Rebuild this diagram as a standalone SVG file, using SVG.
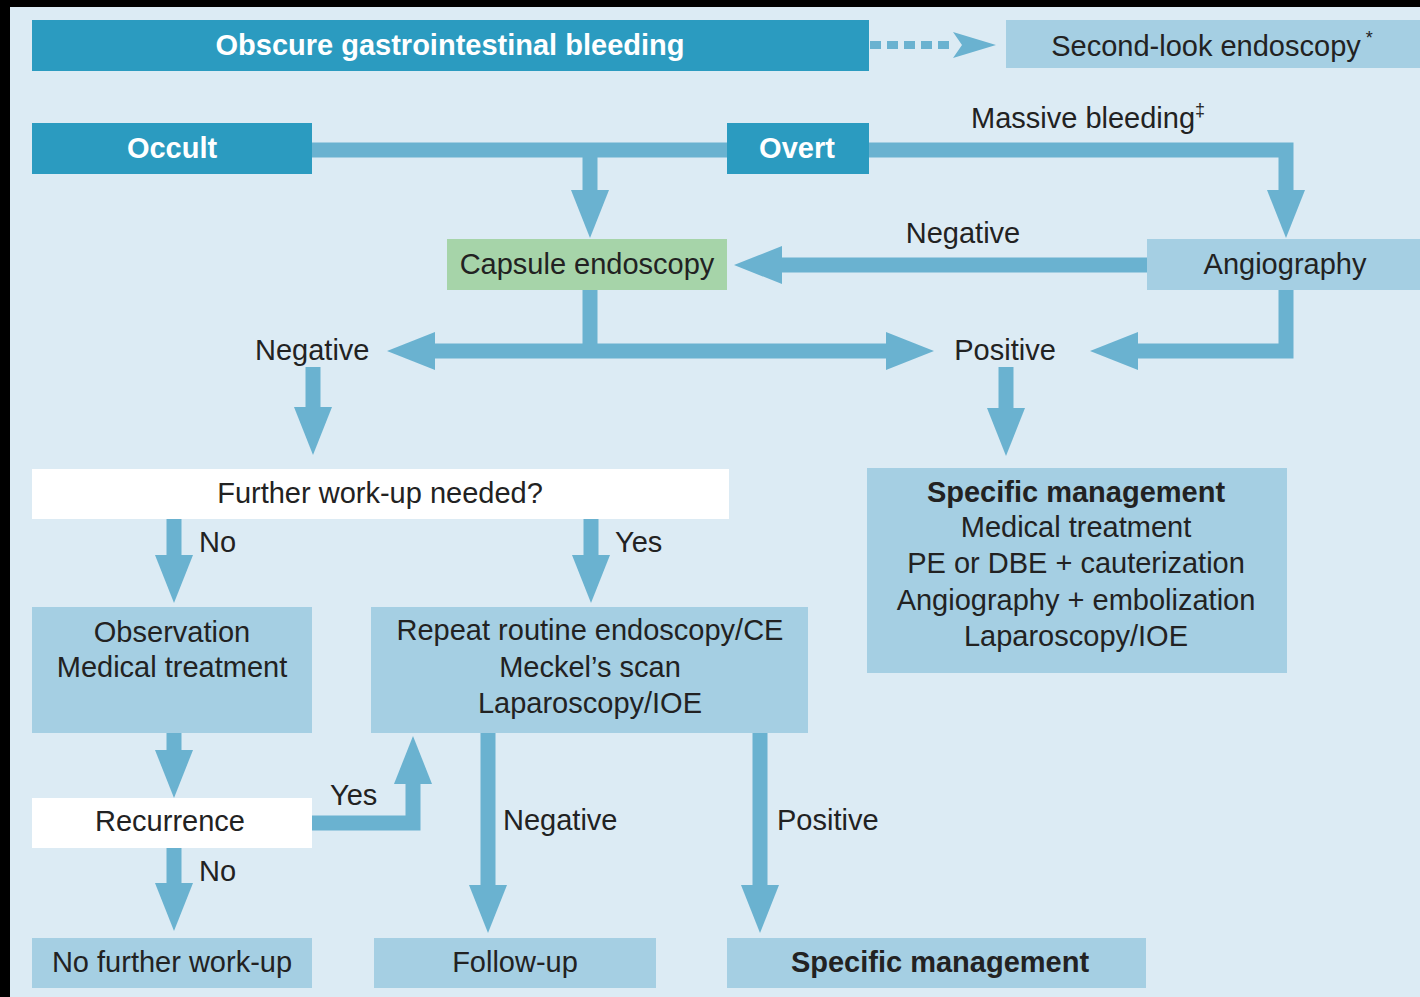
<svg xmlns="http://www.w3.org/2000/svg" width="1420" height="997" viewBox="0 0 1420 997">
<style>
text{font-family:"Liberation Sans",Arial,sans-serif;font-size:29px;fill:#222}
.c{text-anchor:middle}
.b{font-weight:bold}
.w{fill:#fff}
.dark{fill:#2B9BC0}
.light{fill:#A5CFE3}
.green{fill:#A6D4A9}
.white{fill:#fff}
.con{fill:none;stroke:#6AB2D0;stroke-width:15;stroke-linejoin:miter}
.arr{marker-end:url(#ah)}
</style>
<defs>
<marker id="ah" markerUnits="userSpaceOnUse" markerWidth="50" markerHeight="40" refX="0" refY="19" orient="auto" overflow="visible">
<path d="M0,0 L48,19 L0,38 Z" fill="#6AB2D0"/>
</marker>
</defs>
<rect x="0" y="0" width="1420" height="997" fill="#000"/>
<rect x="10" y="7" width="1410" height="990" fill="#DCEBF4"/>

<g id="connectors">
<path class="con" d="M312,150 H727"/>
<path class="con arr" d="M590,150 V190"/>
<path class="con arr" d="M869,150 H1286 V190"/>
<path class="con arr" d="M1147,265 H782"/>
<path class="con" d="M590,290 V351"/>
<path class="con arr" d="M590,351 H435"/>
<path class="con arr" d="M590,351 H886"/>
<path class="con arr" d="M1286,290 V351 H1138"/>
<path class="con arr" d="M313,367 V407"/>
<path class="con arr" d="M1006,367 V408"/>
<path class="con arr" d="M174,519 V555"/>
<path class="con arr" d="M591,519 V555"/>
<path class="con arr" d="M174,733 V750"/>
<path class="con arr" d="M312,823 H413 V784"/>
<path class="con arr" d="M174,848 V883"/>
<path class="con arr" d="M488,733 V885"/>
<path class="con arr" d="M760,733 V885"/>
<path d="M870,45 H953" fill="none" stroke="#6AB2D0" stroke-width="8" stroke-dasharray="11,6"/>
<path d="M953,32 L996,45 L953,58 L962,45 Z" fill="#6AB2D0"/>
<text x="963" y="243" class="c">Negative</text>
<text x="971" y="128">Massive bleeding<tspan font-size="18" dy="-12">‡</tspan></text>
<text x="255" y="360">Negative</text>
<text x="1005" y="360" class="c">Positive</text>
<text x="199" y="552">No</text>
<text x="615" y="552">Yes</text>
<text x="330" y="805">Yes</text>
<text x="199" y="881">No</text>
<text x="503" y="830">Negative</text>
<text x="777" y="830">Positive</text>
</g>

<g id="title">
<rect x="32" y="20" width="837" height="51" class="dark"/>
<text x="450" y="55" class="c b w">Obscure gastrointestinal bleeding</text>
</g>
<g id="second-look">
<rect x="1006" y="20" width="414" height="48" class="light"/>
<text x="1212" y="56" class="c">Second-look endoscopy<tspan font-size="18" dy="-12"> *</tspan></text>
</g>
<g id="occult">
<rect x="32" y="123" width="280" height="51" class="dark"/>
<text x="172" y="158" class="c b w">Occult</text>
</g>
<g id="overt">
<rect x="727" y="123" width="142" height="51" class="dark"/>
<text x="797" y="158" class="c b w">Overt</text>
</g>
<g id="capsule">
<rect x="447" y="239" width="280" height="51" class="green"/>
<text x="587" y="274" class="c">Capsule endoscopy</text>
</g>
<g id="angiography">
<rect x="1147" y="239" width="273" height="51" class="light"/>
<text x="1285" y="274" class="c">Angiography</text>
</g>
<g id="further">
<rect x="32" y="469" width="697" height="50" class="white"/>
<text x="380" y="503" class="c">Further work-up needed?</text>
</g>
<g id="specific-top">
<rect x="867" y="468" width="420" height="205" class="light"/>
<text x="1076" y="502" class="c b">Specific management</text>
<text x="1076" y="537" class="c">Medical treatment</text>
<text x="1076" y="573" class="c">PE or DBE + cauterization</text>
<text x="1076" y="610" class="c">Angiography + embolization</text>
<text x="1076" y="646" class="c">Laparoscopy/IOE</text>
</g>
<g id="observation">
<rect x="32" y="607" width="280" height="126" class="light"/>
<text x="172" y="642" class="c">Observation</text>
<text x="172" y="677" class="c">Medical treatment</text>
</g>
<g id="repeat">
<rect x="371" y="607" width="437" height="126" class="light"/>
<text x="590" y="640" class="c">Repeat routine endoscopy/CE</text>
<text x="590" y="677" class="c">Meckel’s scan</text>
<text x="590" y="713" class="c">Laparoscopy/IOE</text>
</g>
<g id="recurrence">
<rect x="32" y="798" width="280" height="50" class="white"/>
<text x="170" y="831" class="c">Recurrence</text>
</g>
<g id="no-further">
<rect x="32" y="938" width="280" height="50" class="light"/>
<text x="172" y="972" class="c">No further work-up</text>
</g>
<g id="follow-up">
<rect x="374" y="938" width="282" height="50" class="light"/>
<text x="515" y="972" class="c">Follow-up</text>
</g>
<g id="specific-bottom">
<rect x="727" y="938" width="419" height="50" class="light"/>
<text x="940" y="972" class="c b">Specific management</text>
</g>
</svg>
